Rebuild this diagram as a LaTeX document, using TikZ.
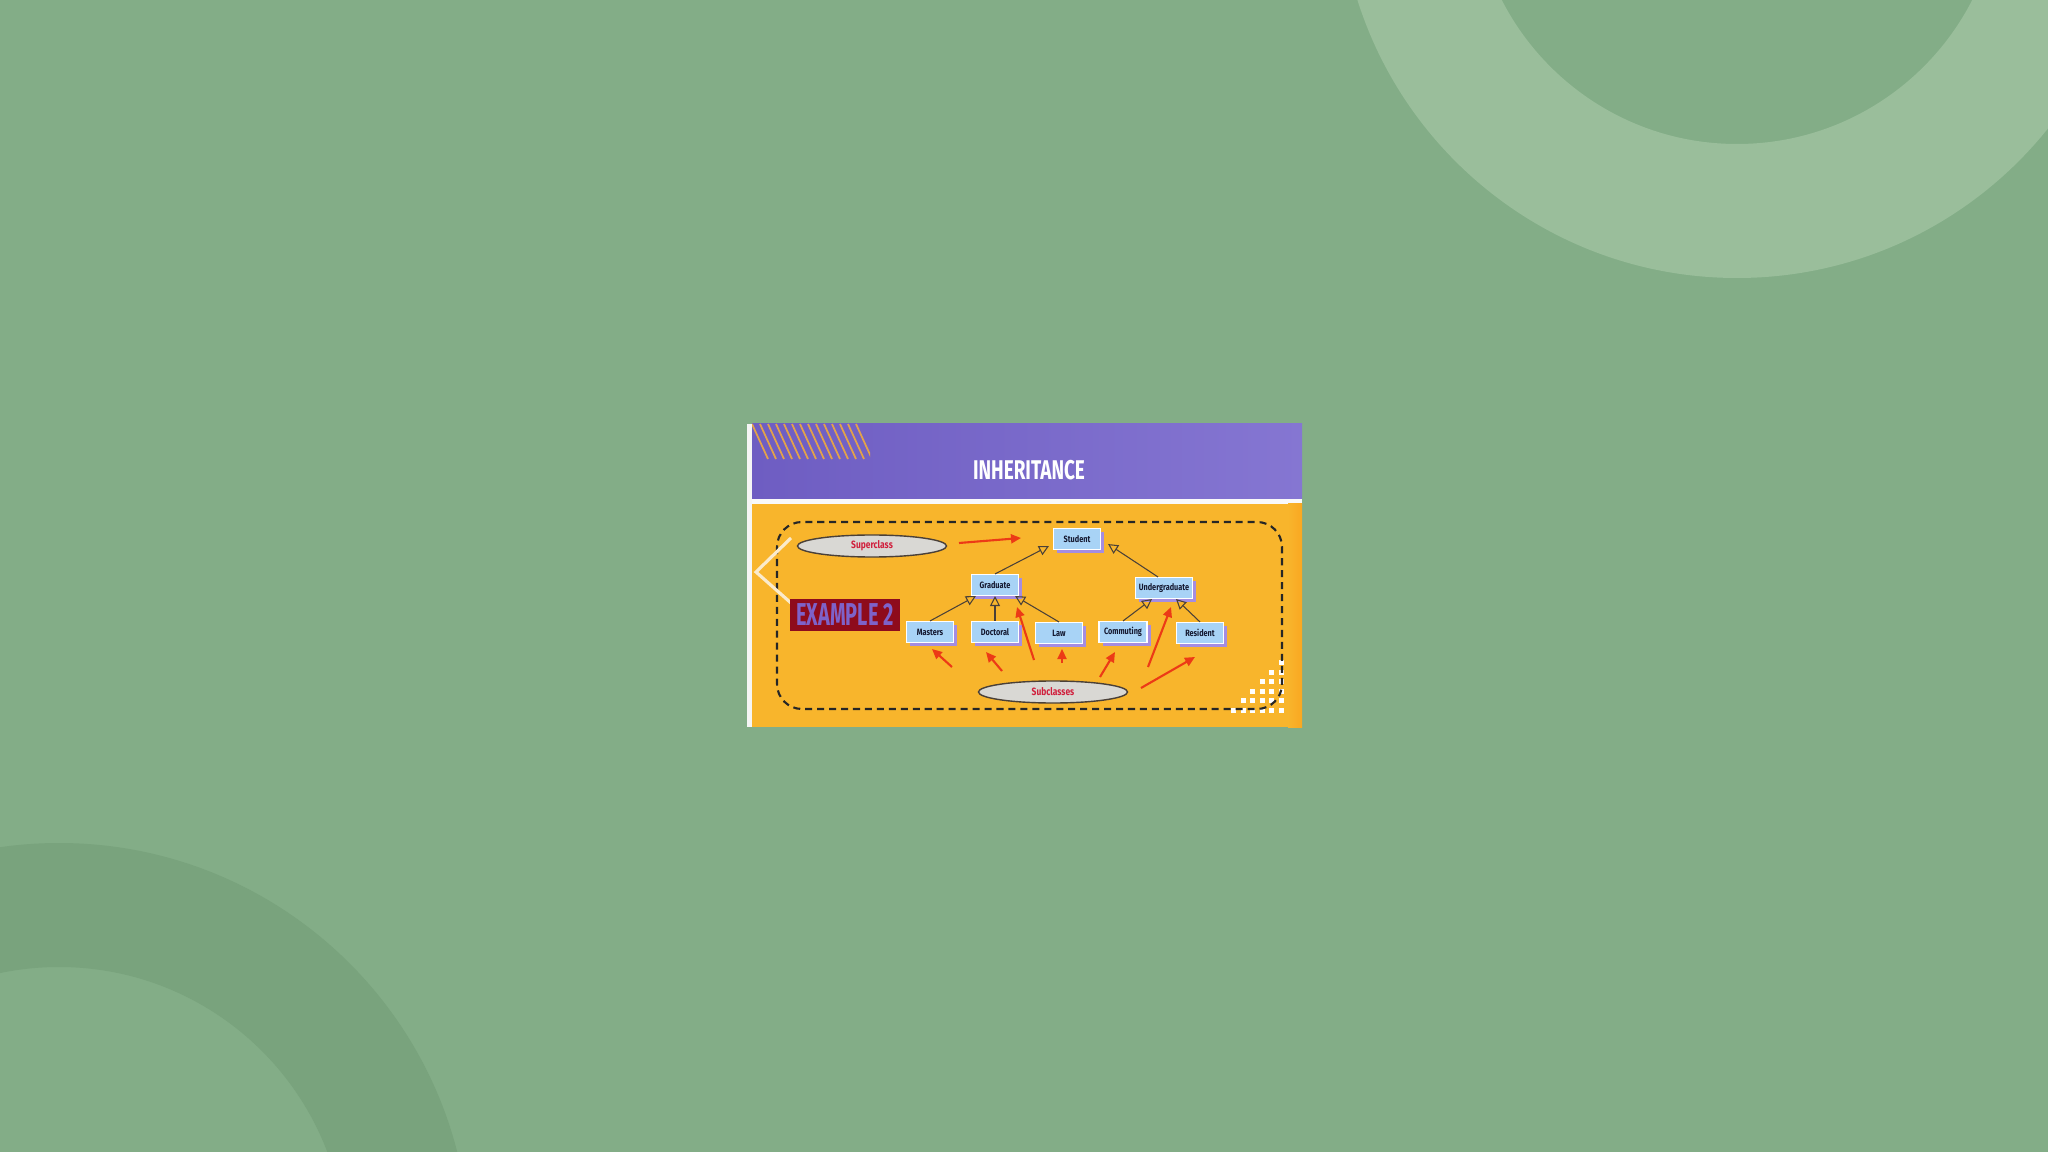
\documentclass[tikz,border=0pt]{standalone}
\usepackage{fontspec}
\setmainfont{Fira Sans}
\usetikzlibrary{arrows.meta,calc,shapes.geometric,shadows}

\definecolor{bggreen}{HTML}{83AD87}
\definecolor{ringlight}{HTML}{9ABE9B}
\definecolor{ringdark}{HTML}{79A37D}
\definecolor{headpurple}{HTML}{6E5DC2}
\definecolor{headlight}{HTML}{8576D2}
\definecolor{panelyellow}{HTML}{F8B52C}
\definecolor{stripeorange}{HTML}{E3A24A}
\definecolor{boxblue}{HTML}{A8D3F6}
\definecolor{shadowpurple}{HTML}{A58DE0}
\definecolor{ovalgrey}{HTML}{D9D8D4}
\definecolor{labelred}{HTML}{D01F3C}
\definecolor{arrowred}{HTML}{EC3A16}
\definecolor{exred}{HTML}{8E0B1C}
\definecolor{expurple}{HTML}{7E62C9}
\definecolor{navytext}{HTML}{141830}
\definecolor{linkgrey}{HTML}{4A4038}
\definecolor{chevroncream}{HTML}{FBEBCB}

\newcommand{\narrow}[2][0.8]{\scalebox{#1}[1]{#2}}

\begin{document}
\begin{tikzpicture}[x=0.01cm,y=-0.01cm,
    classbox/.style={draw=white,line width=0.3pt,fill=boxblue,minimum width=0.47cm,
      minimum height=0.21cm,inner sep=0pt,text=navytext,
      font=\fontsize{2.6}{3}\selectfont\bfseries,
      drop shadow={fill=shadowpurple,opacity=1,shadow xshift=0.35mm,shadow yshift=-0.35mm}},
    oval/.style={ellipse,draw=linkgrey,line width=0.4pt,fill=ovalgrey,minimum width=1.49cm,
      minimum height=0.22cm,inner sep=0pt,text=labelred,
      font=\fontsize{3}{3.5}\selectfont\bfseries},
    isa/.style={draw=linkgrey,line width=0.3pt,-{Triangle[open,length=1mm,width=1mm]}},
    pointer/.style={draw=arrowred,line width=0.6pt,-{Triangle[length=1mm,width=0.9mm]}},
    frame/.style={draw=black!85,line width=0.6pt,dash pattern=on 2pt off 1.4pt,rounded corners=2.5mm}]

  \useasboundingbox (0,0) rectangle (2048,1152);
  \fill[bggreen] (0,0) rectangle (2048,1152);

  % background rings
  \begin{scope}
    \clip (0,0) rectangle (2048,1152);
    \fill[ringlight,even odd rule] (1737,-120) circle (398) (1737,-120) circle (264);
    \fill[ringdark,even odd rule] (59,1254) circle (411) (59,1254) circle (287);
  \end{scope}

  % slide
  \fill[white!92!gray] (747,424) rectangle (752,727);
  \shade[left color=headpurple,right color=headlight] (752,424) rectangle (1302,499);
  \fill[white!95!gray] (752,499) rectangle (1302,504);
  \fill[panelyellow] (752,504) rectangle (1302,727);
  \shade[left color=panelyellow,right color=orange!25!panelyellow] (1288,504) rectangle (1302,727);

  \begin{scope}
    \clip (752,424) rectangle (870,499);
    \foreach \i in {0,...,13}{
      \draw[stripeorange,line width=0.5pt] (752+8*\i,424) -- ++(16,35);
    }
  \end{scope}

  \node[text=white,font=\fontsize{7.7}{9}\selectfont\bfseries] (title) at (1029,470) {\narrow[0.7]{INHERITANCE}};

  % dots in the corner
  \foreach \r in {0,...,5}{
    \pgfmathtruncatemacro{\cstart}{5-\r}
    \foreach \c in {\cstart,...,5}{
      \fill[white] (1231+9.5*\c,660+9.5*\r) rectangle ++(5,5);
    }
  }

  \draw[frame] (777,522) rectangle (1282,709);

  \draw[chevroncream,line width=0.9pt] (791,538) -- (756,572) -- (791,603);

  \node[fill=exred,text=expurple,minimum width=1.09cm,minimum height=0.32cm,inner sep=0pt,
    font=\fontsize{9}{10}\selectfont\bfseries] (example) at (845,615) {\narrow[0.63]{EXAMPLE 2}};

  % classes
  \node[classbox] (student) at (1077,539) {\narrow{Student}};
  \node[classbox] (graduate) at (995,585) {\narrow{Graduate}};
  \node[classbox,minimum width=0.57cm] (undergrad) at (1164,588) {\narrow{Undergraduate}};
  \node[classbox] (masters) at (930,632) {\narrow{Masters}};
  \node[classbox] (doctoral) at (995,632) {\narrow{Doctoral}};
  \node[classbox] (law) at (1059,633) {\narrow{Law}};
  \node[classbox,minimum width=0.48cm] (commuting) at (1123,632) {\narrow{Commuting}};
  \node[classbox] (resident) at (1200,633) {\narrow{Resident}};

  \node[oval] (super) at (872,546) {\narrow{Superclass}};
  \node[oval] (sub) at (1053,692) {\narrow{Subclasses}};

  % generalisation links
  \draw[isa] (graduate.north) -- ([shift={(-4,-4)}]student.south west);
  \draw[isa] ([xshift=-0.06cm]undergrad.north) -- ([shift={(7,-6)}]student.south east);
  \draw[isa] (masters.north) -- ([xshift=0.05cm]graduate.south west);
  \draw[isa] (doctoral.north) -- (graduate.south);
  \draw[isa] (law.north) -- ([xshift=-0.04cm]graduate.south east);
  \draw[isa] (commuting.north) -- ([xshift=-0.12cm]undergrad.south);
  \draw[isa] (resident.north) -- ([xshift=0.12cm]undergrad.south);

  % pointers
  \coordinate (sup_from) at (959,543);
  \coordinate (sup_to) at (1021,538);
  \draw[pointer] (sup_from) -- (sup_to);

  \foreach \n/\fx/\fy/\tx/\ty in {1/952/667/932/649,2/1002/671/986/652,3/1034/660/1017/607,
      4/1062/663/1062/649,5/1100/677/1115/652,6/1148/667/1171/607,7/1141/688/1195/657}{
    \coordinate (sub_from_\n) at (\fx,\fy);
    \coordinate (sub_to_\n) at (\tx,\ty);
    \draw[pointer] (sub_from_\n) -- (sub_to_\n);
  }
\end{tikzpicture}
\end{document}
